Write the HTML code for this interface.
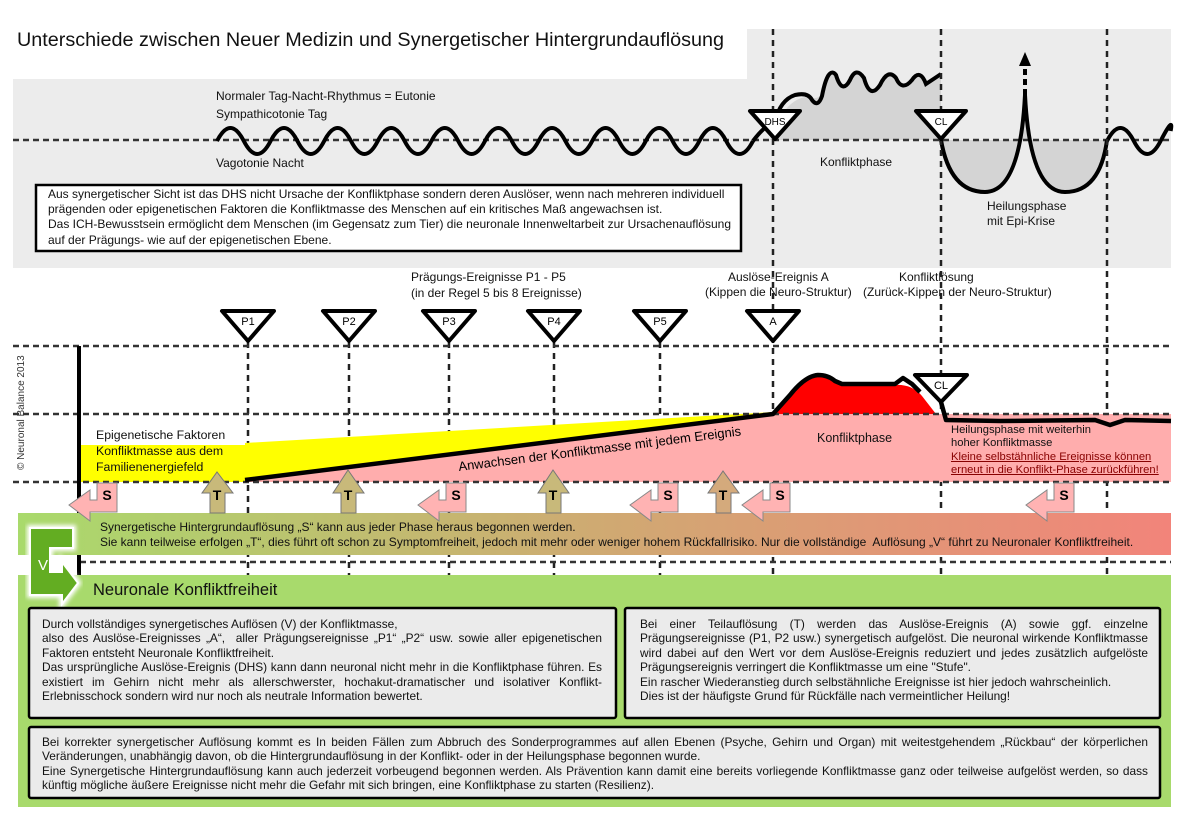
<!DOCTYPE html>
<html><head><meta charset="utf-8"><style>
body{margin:0;width:1191px;height:822px;background:#fff;position:relative;overflow:hidden;font-family:"Liberation Sans",Arial,sans-serif;color:#111}
.t{position:absolute;white-space:nowrap}
.p{position:absolute;font-size:11.9px;line-height:14.4px;text-align:justify}
</style></head><body>
<svg width="1191" height="822" style="position:absolute;left:0;top:0">
<defs>
<linearGradient id="band" x1="0" x2="1" y1="0" y2="0">
<stop offset="0" stop-color="#a9da6c"/><stop offset="0.5" stop-color="#cfaa72"/><stop offset="1" stop-color="#f2847a"/>
</linearGradient>
<filter id="glow"><feGaussianBlur stdDeviation="2"/></filter>
</defs>
<rect x="13" y="79" width="1158" height="189" fill="#ececec"/>
<rect x="747" y="29" width="424" height="52" fill="#ececec"/>
<path d="M770 140 L780 118 Q790 100 805 97 Q815 100 820 96 Q828 70 836 75 Q842 90 850 80 Q856 70 864 78 Q870 95 880 85 Q888 72 896 78 Q902 88 912 80 Q920 72 926 84 Q932 78 941 76 L941 140 Z" fill="#d4d4d4"/>
<path d="M941 140 Q950 192 985 192 Q1020 192 1025 95 Q1030 192 1065 192 Q1100 192 1107 140 Z" fill="#d4d4d4"/>
<line x1="13" y1="140" x2="1171" y2="140" stroke="#333" stroke-width="2.5" stroke-dasharray="6 4"/>
<path d="M217 141 q13.4 -26 26.8 0 t26.8 0 t26.8 0 t26.8 0 t26.8 0 t26.8 0 t26.8 0 t26.8 0 t26.8 0 t26.8 0 t26.8 0 t26.8 0 t26.8 0 t26.8 0 t26.8 0 t26.8 0 t26.8 0 t26.8 0 t26.8 0 t26.8 0" fill="none" stroke="#000" stroke-width="4"/>
<path d="M753 141 Q765 125 775 122 Q780 100 795 95 Q808 92 812 100 Q818 108 822 96 Q828 65 836 75 Q842 95 850 80 Q856 66 864 78 Q870 100 880 85 Q888 68 896 78 Q902 92 912 80 Q920 68 926 84 Q932 80 941 74" fill="none" stroke="#000" stroke-width="4"/>
<path d="M941 140 Q950 192 985 192 Q1020 192 1025 95 Q1030 192 1065 192 Q1100 192 1107 140" fill="none" stroke="#000" stroke-width="4"/>
<path d="M1107 141 q13.4 -26 26.8 0 t26.8 0 t10 -10" fill="none" stroke="#000" stroke-width="4"/>
<line x1="1025" y1="95" x2="1025" y2="62" stroke="#000" stroke-width="4" stroke-dasharray="6 4"/>
<polygon points="1019,66 1025,52 1031,66" fill="#000"/>
<g stroke="#222" stroke-width="2.5" stroke-dasharray="6 5">
<line x1="773" y1="29" x2="773" y2="575"/><line x1="941" y1="29" x2="941" y2="575"/><line x1="1107" y1="29" x2="1107" y2="575"/>
<line x1="248" y1="342" x2="248" y2="575"/><line x1="349" y1="342" x2="349" y2="575"/><line x1="449" y1="342" x2="449" y2="575"/><line x1="554" y1="342" x2="554" y2="575"/><line x1="660" y1="342" x2="660" y2="575"/>
</g>
<polygon points="750,111 800,111 775,139" fill="#fff" stroke="#000" stroke-width="4" stroke-linejoin="round"/>
<polygon points="916,111 966,111 941,139" fill="#fff" stroke="#000" stroke-width="4" stroke-linejoin="round"/>
<text x="775" y="125" font-size="10" text-anchor="middle" font-family="Liberation Sans">DHS</text>
<text x="941" y="125" font-size="10" text-anchor="middle" font-family="Liberation Sans">CL</text>
<rect x="36" y="185" width="705" height="66" fill="#fff" stroke="#000" stroke-width="2.5"/>
<rect x="81" y="445" width="164" height="37" fill="#ffff00"/>
<polygon points="245,443 773,412 773,414 245,480" fill="#ffff00"/>
<polygon points="245,480 773,414 1171,414 1171,482 245,482" fill="#ffadad"/>
<path d="M773 414 L790 395 Q805 378 818 376 Q828 376 835 382 L842 385 L895 385 Q912 384 922 396 L936 414 Z" fill="#ff0000"/>
<g stroke="#333" stroke-width="2.5" stroke-dasharray="6 4">
<line x1="13" y1="346" x2="1171" y2="346"/><line x1="13" y1="414" x2="1171" y2="414"/><line x1="13" y1="482" x2="1171" y2="482"/><line x1="80" y1="562" x2="1171" y2="562"/>
</g>
<line x1="79" y1="346" x2="79" y2="575" stroke="#000" stroke-width="4"/>
<path d="M245 480 L773 414 L790 395 Q805 376 818 375 Q828 375 835 381 L842 384 L895 384 L903 378 L912 384 L920 392" fill="none" stroke="#000" stroke-width="4.5" stroke-linejoin="round"/>
<polyline points="941,402 946,420 1000,421 1095,420 1110,425 1125,420 1171,421" fill="none" stroke="#000" stroke-width="4.5" stroke-linejoin="round"/>
<g fill="#fff" stroke="#000" stroke-width="4" stroke-linejoin="round">
<polygon points="222,311 274,311 248,341"/><polygon points="323,311 375,311 349,341"/><polygon points="423,311 475,311 449,341"/>
<polygon points="528,311 580,311 554,341"/><polygon points="634,311 686,311 660,341"/><polygon points="747,311 799,311 773,341"/>
<polygon points="915,375 967,375 941,402"/>
</g>
<g font-size="11" text-anchor="middle" font-family="Liberation Sans">
<text x="248" y="325">P1</text><text x="349" y="325">P2</text><text x="449" y="325">P3</text><text x="554" y="325">P4</text><text x="660" y="325">P5</text><text x="773" y="325">A</text><text x="941" y="389">CL</text>
</g>
<rect x="18" y="513" width="1153" height="42" fill="url(#band)"/>
<rect x="18" y="575" width="1153" height="232" fill="#a8da6c"/>
<g stroke="#777" stroke-width="1">
<polygon points="210,513 210,493 202,493 217,472 233,493 225,493 225,513" fill="#c8b97a"/>
<polygon points="341,513 341,493 333,493 348,470 364,493 356,493 356,513" fill="#c8b97a"/>
<polygon points="546,513 546,493 538,493 553,470 569,493 561,493 561,513" fill="#c8b97a"/>
<polygon points="716,513 716,493 708,493 723,471 739,493 731,493 731,513" fill="#d4aa7c"/>
</g>
<g stroke="#888" stroke-width="1" fill="#ffb3b3">
<polygon points="97,483 117,483 117,512 90,512 90,521 69,505 90,490 90,500 97,500"/>
<polygon points="446,483 466,483 466,512 439,512 439,521 418,505 439,490 439,500 446,500"/>
<polygon points="658,483 678,483 678,512 651,512 651,521 630,505 651,490 651,500 658,500"/>
<polygon points="770,483 790,483 790,512 763,512 763,521 742,505 763,490 763,500 770,500"/>
<polygon points="1054,483 1074,483 1074,512 1047,512 1047,521 1026,505 1047,490 1047,500 1054,500"/>
</g>
<g font-size="14" font-weight="bold" text-anchor="middle" font-family="Liberation Sans">
<text x="107" y="500">S</text><text x="456" y="500">S</text><text x="668" y="500">S</text><text x="780" y="500">S</text><text x="1064" y="500">S</text>
<text x="217" y="500">T</text><text x="348" y="500">T</text><text x="553" y="500">T</text><text x="723" y="500">T</text>
</g>
<polygon points="30,528 73,528 73,548 50,548 50,572 62,572 62,562 78,583 62,604 62,595 30,595" fill="#fff" stroke="#fff" stroke-width="6" filter="url(#glow)"/>
<polygon points="30,528 73,528 73,548 50,548 50,572 62,572 62,562 78,583 62,604 62,595 30,595" fill="#63ad22" stroke="#fff" stroke-width="2"/>
<text x="38" y="570" font-size="15" fill="#fff" font-family="Liberation Sans">V</text>
<rect x="29" y="608" width="587" height="110" fill="#ebebeb" stroke="#000" stroke-width="2.5" rx="2"/>
<rect x="625" y="608" width="535" height="110" fill="#ebebeb" stroke="#000" stroke-width="2.5" rx="2"/>
<rect x="29" y="727" width="1131" height="71" fill="#ebebeb" stroke="#000" stroke-width="2.5" rx="2"/>
<text transform="translate(24,470) rotate(-90)" font-size="10" font-family="Liberation Sans" fill="#333">© Neuronal Balance 2013</text>
<text transform="translate(459,471) rotate(-7.2)" font-size="13" font-family="Liberation Sans">Anwachsen der Konfliktmasse mit jedem Ereignis</text>
</svg>

<div class="t" style="left:17px;top:29px;font-size:19.8px">Unterschiede zwischen Neuer Medizin und Synergetischer Hintergrundauflösung</div>
<div class="t" style="left:216px;top:89px;font-size:12px">Normaler Tag-Nacht-Rhythmus = Eutonie</div>
<div class="t" style="left:216px;top:107px;font-size:12px">Sympathicotonie Tag</div>
<div class="t" style="left:216px;top:156px;font-size:12px">Vagotonie Nacht</div>
<div class="t" style="left:820px;top:155px;font-size:12px">Konfliktphase</div>
<div class="t" style="left:987px;top:199px;font-size:12px;line-height:15px">Heilungsphase<br>mit Epi-Krise</div>
<div class="t" style="left:48px;top:187px;font-size:12px;line-height:15.2px">Aus synergetischer Sicht ist das DHS nicht Ursache der Konfliktphase sondern deren Auslöser, wenn nach mehreren individuell<br>prägenden oder epigenetischen Faktoren die Konfliktmasse des Menschen auf ein kritisches Maß angewachsen ist.<br>Das ICH-Bewusstsein ermöglicht dem Menschen (im Gegensatz zum Tier) die neuronale Innenweltarbeit zur Ursachenauflösung<br>auf der Prägungs- wie auf der epigenetischen Ebene.</div>

<div class="t" style="left:411px;top:270px;font-size:12px;line-height:15.5px">Prägungs-Ereignisse P1 - P5<br>(in der Regel 5 bis 8 Ereignisse)</div>
<div class="t" style="left:728px;top:270px;font-size:12px">Auslöse-Ereignis A</div>
<div class="t" style="left:705px;top:285px;font-size:12px">(Kippen die Neuro-Struktur)</div>
<div class="t" style="left:899px;top:270px;font-size:12px">Konfliktlösung</div>
<div class="t" style="left:863px;top:285px;font-size:12px">(Zurück-Kippen der Neuro-Struktur)</div>

<div class="t" style="left:96px;top:427px;font-size:12.3px;line-height:16px">Epigenetische Faktoren<br>Konfliktmasse aus dem<br>Familienenergiefeld</div>
<div class="t" style="left:817px;top:431px;font-size:12.5px">Konfliktphase</div>
<div class="t" style="left:951px;top:424px;font-size:11.2px;line-height:13.3px">Heilungsphase mit weiterhin<br>hoher Konfliktmasse<br><span style="color:#800;text-decoration:underline">Kleine selbstähnliche Ereignisse können</span><br><span style="color:#800;text-decoration:underline">erneut in die Konflikt-Phase zurückführen!</span></div>

<div class="t" style="left:100px;top:520px;font-size:12px;line-height:14.5px">Synergetische Hintergrundauflösung „S“ kann aus jeder Phase heraus begonnen werden.<br>Sie kann teilweise erfolgen „T“, dies führt oft schon zu Symptomfreiheit, jedoch mit mehr oder weniger hohem Rückfallrisiko. Nur die vollständige&nbsp; Auflösung „V“ führt zu Neuronaler Konfliktfreiheit.</div>
<div class="t" style="left:93px;top:581px;font-size:16.5px">Neuronale Konfliktfreiheit</div>

<div class="p" style="left:42px;top:617px;width:560px">Durch vollständiges synergetisches Auflösen (V) der Konfliktmasse,<br>also des Auslöse-Ereignisses „A“,&nbsp; aller Prägungsereignisse „P1“ „P2“ usw. sowie aller epigenetischen Faktoren entsteht Neuronale Konfliktfreiheit.<br>Das ursprüngliche Auslöse-Ereignis (DHS) kann dann neuronal nicht mehr in die Konfliktphase führen. Es existiert im Gehirn nicht mehr als allerschwerster, hochakut-dramatischer und isolativer Konflikt-Erlebnisschock sondern wird nur noch als neutrale Information bewertet.</div>
<div class="p" style="left:640px;top:617px;width:508px">Bei einer Teilauflösung (T) werden das Auslöse-Ereignis (A) sowie ggf. einzelne Prägungsereignisse (P1, P2 usw.) synergetisch aufgelöst. Die neuronal wirkende Konfliktmasse wird dabei auf den Wert vor dem Auslöse-Ereignis reduziert und jedes zusätzlich aufgelöste Prägungsereignis verringert die Konfliktmasse um eine "Stufe".<br>Ein rascher Wiederanstieg durch selbstähnliche Ereignisse ist hier jedoch wahrscheinlich.<br>Dies ist der häufigste Grund für Rückfälle nach vermeintlicher Heilung!</div>
<div class="p" style="left:42px;top:735px;width:1106px">Bei korrekter synergetischer Auflösung kommt es In beiden Fällen zum Abbruch des Sonderprogrammes auf allen Ebenen (Psyche, Gehirn und Organ) mit weitestgehendem „Rückbau“ der körperlichen Veränderungen, unabhängig davon, ob die Hintergrundauflösung in der Konflikt- oder in der Heilungsphase begonnen wurde.<br>Eine Synergetische Hintergrundauflösung kann auch jederzeit vorbeugend begonnen werden. Als Prävention kann damit eine bereits vorliegende Konfliktmasse ganz oder teilweise aufgelöst werden, so dass künftig mögliche äußere Ereignisse nicht mehr die Gefahr mit sich bringen, eine Konfliktphase zu starten (Resilienz).</div>
</body></html>
